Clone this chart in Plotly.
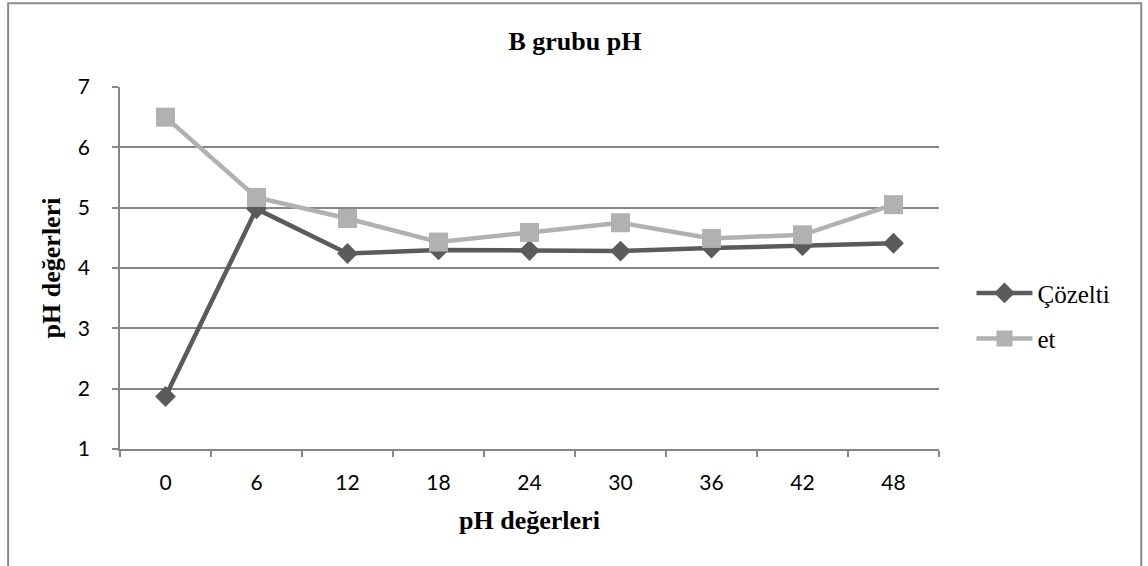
import plotly.graph_objects as go

categories = ["0", "6", "12", "18", "24", "30", "36", "42", "48"]
cozelti = [1.87, 4.98, 4.24, 4.30, 4.29, 4.28, 4.33, 4.37, 4.41]
et = [6.50, 5.17, 4.82, 4.43, 4.59, 4.75, 4.49, 4.55, 5.05]
y_ticks = [1, 2, 3, 4, 5, 6, 7]

W, H = 1148, 566
L, R, T, B = 119.5, 208.5, 87.3, 116.7
pw, ph = W - L - R, H - T - B

def px(x):
    return (x - L) / pw

def py(y):
    return (H - B - y) / ph

serif = "Liberation Serif"
sans = "Lato, Liberation Sans, sans-serif"
grid = "#878787"

fig = go.Figure()
fig.add_trace(go.Scatter(
    x=categories, y=cozelti, name="Çözelti", mode="lines+markers",
    line=dict(color="#5b5b5b", width=4.5),
    marker=dict(symbol="diamond", size=16, color="#5b5b5b"),
    legendgroup="a",
))
fig.add_trace(go.Scatter(
    x=categories, y=et, name="et", mode="lines+markers",
    line=dict(color="#b1b1b1", width=4.5),
    marker=dict(symbol="square", size=19, color="#b1b1b1"),
    legendgroup="b",
))

fig.update_layout(
    width=W, height=H,
    margin=dict(l=L, r=R, t=T, b=B, autoexpand=False),
    paper_bgcolor="white", plot_bgcolor="white",
    title=dict(text="<b>B grubu pH</b>", x=px(575), xref="paper", xanchor="center",
               y=1 - 41 / H, yanchor="middle",
               font=dict(family=serif, size=26, color="black")),
    xaxis=dict(
        type="category", range=[-0.5, 8.5],
        showline=True, linecolor=grid, linewidth=1.5,
        ticks="outside", tickson="boundaries", ticklen=6, tickcolor=grid, tickwidth=1.5,
        showgrid=False, zeroline=False,
        ticklabelstandoff=14,
        tickfont=dict(family=sans, size=21, color="black"),
        title=dict(text="<b>pH değerleri</b>", standoff=18,
                   font=dict(family=serif, size=26, color="black")),
    ),
    yaxis=dict(
        range=[1, 7], tickvals=y_ticks,
        showline=True, linecolor=grid, linewidth=1.5,
        ticks="outside", ticklen=6, tickcolor=grid, tickwidth=1.5,
        showgrid=True, gridcolor=grid, gridwidth=1.5, zeroline=False,
        ticklabelstandoff=18,
        tickfont=dict(family=sans, size=21, color="black"),
        title=dict(text="<b>pH değerleri</b>", standoff=10,
                   font=dict(family=serif, size=26, color="black")),
    ),
    legend=dict(
        x=px(972), y=py(316), xanchor="left", yanchor="middle",
        font=dict(family=serif, size=25, color="black"),
        tracegroupgap=10, bgcolor="rgba(0,0,0,0)", itemwidth=56,
    ),
    showlegend=True,
    shapes=[dict(type="rect", xref="paper", yref="paper",
                 x0=px(7.5), x1=px(1142), y0=py(580), y1=py(3.5),
                 line=dict(color="#8a8a8a", width=2), layer="below")],
)

fig.write_html("out.html")
